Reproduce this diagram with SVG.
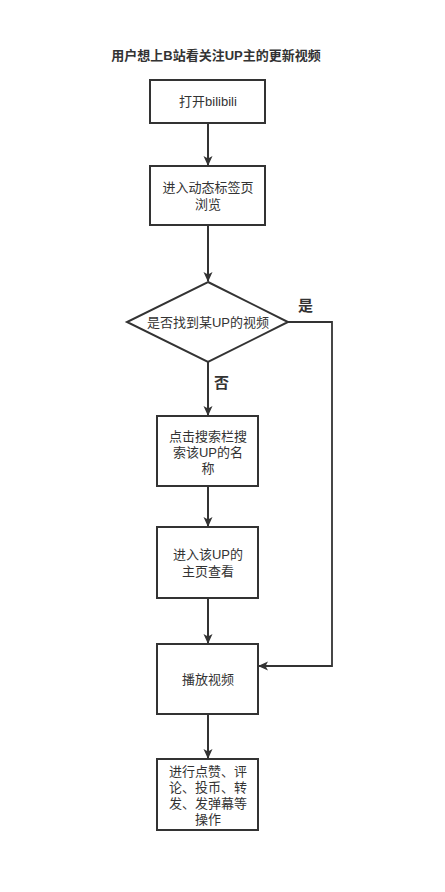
<svg xmlns="http://www.w3.org/2000/svg" width="445" height="892" viewBox="0 0 445 892">
<defs>
<marker id="ah" markerWidth="10" markerHeight="10" refX="9" refY="5" orient="auto" markerUnits="userSpaceOnUse">
<path d="M0,0.5 L10,5 L0,9.5 L2.5,5 Z" fill="#333"/>
</marker>
<style>
.n{fill:#fff;stroke:#333;stroke-width:2}
.t{font-family:"Liberation Sans","Noto Sans CJK SC",sans-serif;font-size:13px;fill:#333;text-anchor:middle}
.b{font-family:"Liberation Sans","Noto Sans CJK SC",sans-serif;font-size:15px;font-weight:bold;fill:#333}
.c{fill:none;stroke:#333;stroke-width:2;marker-end:url(#ah)}
</style>
</defs>
<rect width="445" height="892" fill="#fff"/>
<text x="216" y="60" class="t" style="font-weight:bold">用户想上B站看关注UP主的更新视频</text>
<g id="connectors">
<path class="c" d="M208,123 V165"/>
<path class="c" d="M208,225 V281"/>
<path class="c" d="M208,362 V415"/>
<path class="c" d="M208,486 V526"/>
<path class="c" d="M208,598 V643"/>
<path class="c" d="M208,714 V758"/>
<path class="c" d="M288,322 H332 V666 H259" style="stroke-width:1.8"/>
<text x="298" y="311" class="b">是</text>
<text x="214" y="388" class="b">否</text>
</g>
<g id="n1"><rect class="n" x="150" y="80" width="115" height="43"/><text class="t" x="208" y="106">打开bilibili</text></g>
<g id="n2"><rect class="n" x="150" y="166" width="115" height="59"/><text class="t" x="208" y="192">进入动态标签页</text><text class="t" x="208" y="209">浏览</text></g>
<g id="n3"><polygon class="n" points="208,282 288,322 208,362 127,322"/><text class="t" x="208" y="327">是否找到某UP的视频</text></g>
<g id="n4"><rect class="n" x="157" y="416" width="101" height="70"/><text class="t" x="208" y="441">点击搜索栏搜</text><text class="t" x="208" y="457">索该UP的名</text><text class="t" x="208" y="473">称</text></g>
<g id="n5"><rect class="n" x="157" y="527" width="101" height="71"/><text class="t" x="208" y="559">进入该UP的</text><text class="t" x="208" y="576">主页查看</text></g>
<g id="n6"><rect class="n" x="157" y="644" width="101" height="70"/><text class="t" x="208" y="684">播放视频</text></g>
<g id="n7"><rect class="n" x="157" y="759" width="101" height="71"/><text class="t" x="208" y="776">进行点赞、评</text><text class="t" x="208" y="792">论、投币、转</text><text class="t" x="208" y="808">发、发弹幕等</text><text class="t" x="208" y="824">操作</text></g>
</svg>
